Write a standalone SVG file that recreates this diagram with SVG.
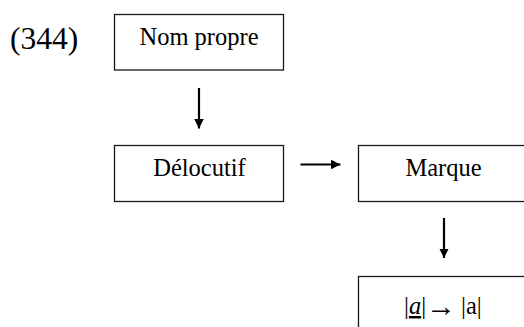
<svg xmlns="http://www.w3.org/2000/svg" width="524" height="327" viewBox="0 0 524 327">
  <defs>
    <style>
      .box { fill: #ffffff; stroke: #1a1a1a; stroke-width: 1.3; }
      .lbl { font-family: "Liberation Serif", "Times New Roman", serif; font-size: 24.5px; fill: #000000; }
      .num { font-family: "Liberation Serif", "Times New Roman", serif; font-size: 31.5px; fill: #000000; }
      .arr { font-family: "Liberation Serif", serif; font-size: 30px; }
      .conn { stroke: #000000; stroke-width: 2.2; fill: none; marker-end: url(#ah); }
    </style>
    <marker id="ah" viewBox="0 0 10 10" refX="10" refY="5" markerUnits="userSpaceOnUse" markerWidth="9.5" markerHeight="9.5" orient="auto">
      <path d="M0,0 L10,5 L0,10 Z" fill="#000000"/>
    </marker>
  </defs>
  <rect width="524" height="327" fill="#ffffff"/>
  <text class="num" x="10" y="48.5">(344)</text>
  <g id="node-nom-propre">
    <rect class="box" x="114.5" y="14.5" width="169" height="55.5"/>
    <text class="lbl" x="199" y="45" text-anchor="middle">Nom propre</text>
  </g>
  <g id="node-delocutif">
    <rect class="box" x="114.5" y="145.5" width="169" height="56"/>
    <text class="lbl" x="199.5" y="176" text-anchor="middle">Délocutif</text>
  </g>
  <g id="node-marque">
    <rect class="box" x="358.5" y="145.5" width="172" height="56"/>
    <text class="lbl" x="443.5" y="176" text-anchor="middle">Marque</text>
  </g>
  <g id="node-regle">
    <rect class="box" x="358.5" y="276.5" width="172" height="60"/>
    <text class="lbl" y="314"><tspan x="404">|</tspan><tspan font-style="italic" text-decoration="underline">a</tspan><tspan>|</tspan><tspan class="arr" x="426" dy="1.5">→</tspan><tspan x="461" dy="-1.5">|a|</tspan></text>
  </g>
  <g id="connectors">
    <line class="conn" x1="199" y1="88" x2="199" y2="128.5"/>
    <line class="conn" x1="300.5" y1="164.5" x2="340.5" y2="164.5"/>
    <line class="conn" x1="444" y1="218" x2="444" y2="258"/>
  </g>
</svg>
